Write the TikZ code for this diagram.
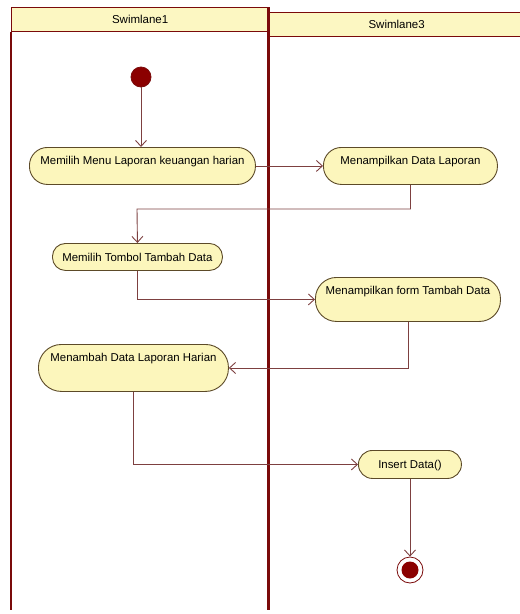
\documentclass[tikz,border=0pt]{standalone}
\usepackage{fontspec}
\setmainfont{Liberation Sans}
\usetikzlibrary{arrows.meta}
\definecolor{lanered}{HTML}{7A0A0A}
\definecolor{connred}{HTML}{7D4040}
\definecolor{nodefill}{HTML}{FCF6BC}
\definecolor{nodeborder}{HTML}{5C4A28}
\definecolor{headfill}{HTML}{FCF7C2}
\definecolor{dotred}{HTML}{8B0000}
\tikzset{
  act/.style={draw=nodeborder, fill=nodefill, line width=0.9pt, inner xsep=0pt, inner ysep=0pt,
    font=\fontsize{11.4}{13}\selectfont, anchor=north west},
  conn/.style={draw=connred, line width=0.9pt, -{Straight Barb[length=6pt,width=11pt]}},
  lanehead/.style={draw=lanered, fill=headfill, line width=1.3pt, inner sep=0pt, font=\fontsize{11.5}{13}\selectfont},
}
\begin{document}
\begin{tikzpicture}[x=1pt,y=-1pt]
\useasboundingbox (0,0) rectangle (520,614);
% lanes
\node[lanehead, minimum width=257pt, minimum height=24pt, anchor=north west] (h1) at (11,7) {Swimlane1};
\node[lanehead, minimum width=256pt, minimum height=24pt, anchor=north west] (h3) at (268,12) {Swimlane3};
\draw[lanered, line width=1.3pt] (h1.south west) -- (11,610);
\draw[lanered, line width=3pt] (268,7) -- (268,610);
% initial
\node[circle, fill=dotred, draw=lanered, line width=0.8pt, minimum size=20pt, inner sep=0pt] (init) at (141,77) {};
% activities
\node[act, rounded corners=18pt, minimum width=226pt, text height=17pt, text depth=20pt] (n1) at (29,147) {Memilih Menu Laporan keuangan harian};
\node[act, rounded corners=18pt, minimum width=174pt, text height=17pt, text depth=20pt] (n2) at (323,147) {Menampilkan Data Laporan};
\node[act, rounded corners=13pt, minimum width=170pt, text height=18pt, text depth=9pt] (n3) at (52,243) {Memilih Tombol Tambah Data};
\node[act, rounded corners=21pt, minimum width=185pt, text height=17pt, text depth=27pt] (n4) at (315,277) {Menampilkan form Tambah Data};
\node[act, rounded corners=23pt, minimum width=190pt, text height=17pt, text depth=30pt] (n5) at (38,344) {Menambah Data Laporan Harian};
\node[act, rounded corners=14pt, minimum width=103pt, text height=18pt, text depth=10pt] (n6) at (358,450) {Insert Data()};
% final
\node[circle, fill=white, draw=lanered, line width=0.8pt, minimum size=26pt, inner sep=0pt] (fin) at (410,570) {};
\node[circle, fill=dotred, minimum size=17pt, inner sep=0pt] (finin) at (fin.center) {};
% connectors
\coordinate (j1) at (137,209);
\draw[conn] (init) -- (n1.north -| init);
\draw[conn] (n1.east) -- (n2.west);
\draw[conn] (n2.south) |- (j1) -- (n3.north);
\draw[conn] (n3.south) |- (n4.west);
\draw[conn] (n4.south) |- (n5.east);
\draw[conn] (n5.south) |- (n6.west);
\draw[conn] (n6.south -| fin) -- (fin.north);
\end{tikzpicture}
\end{document}
